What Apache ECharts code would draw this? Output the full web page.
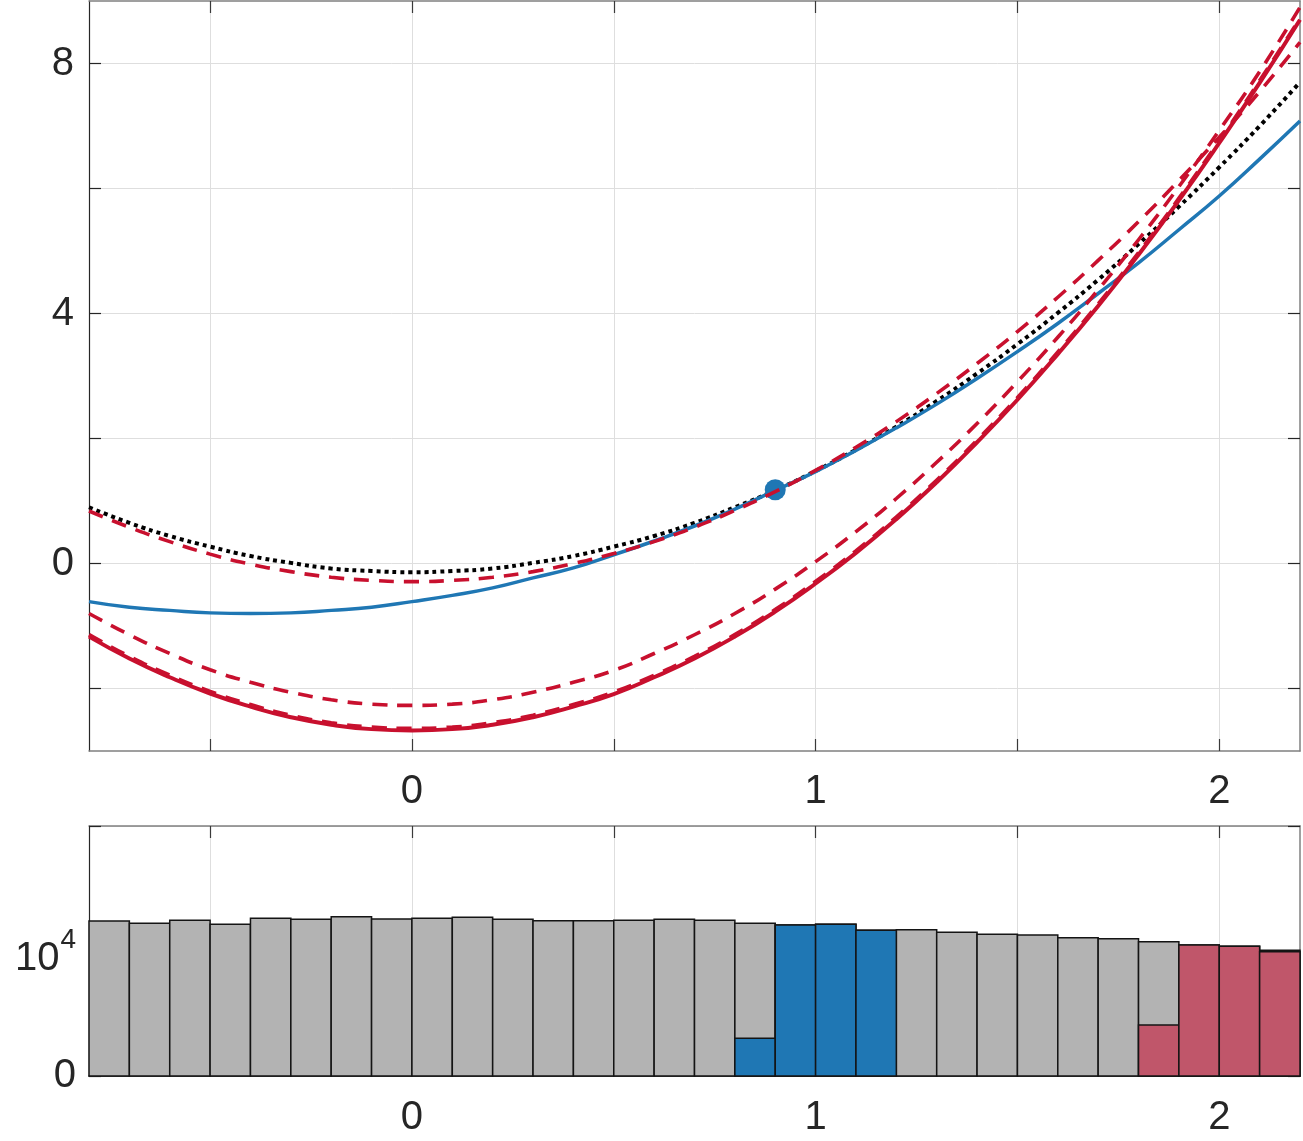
<!DOCTYPE html>
<html>
<head>
<meta charset="utf-8">
<script src="https://cdn.jsdelivr.net/npm/echarts@6/dist/echarts.min.js"></script>
<style>
  html, body { margin: 0; padding: 0; background: #fff; }
  #main { width: 1303px; height: 1141px; }
</style>
</head>
<body>
<div id="main"></div>
<script>
const xs = [-0.8, -0.7, -0.6, -0.5, -0.4, -0.3, -0.2, -0.1, 0, 0.1, 0.2, 0.3, 0.4, 0.5, 0.6, 0.7, 0.8, 0.9, 1.0,
            1.1, 1.2, 1.3, 1.4, 1.5, 1.6, 1.7, 1.8, 1.9, 2.0, 2.1, 2.2];

// black dotted curve
const trueCurve = [0.90, 0.65, 0.44, 0.27, 0.12, 0.01, -0.08, -0.12, -0.14, -0.12, -0.08, 0.01, 0.12, 0.27, 0.44, 0.65,
                   0.90, 1.17, 1.48, 1.82, 2.19, 2.60, 3.04, 3.51, 4.01, 4.54, 5.11, 5.71, 6.34, 7.00, 7.70];
// blue solid curve
const blueCurve = [-0.61, -0.70, -0.75, -0.79, -0.80, -0.79, -0.75, -0.70, -0.61, -0.51, -0.39, -0.23, -0.07, 0.14, 0.36, 0.60,
                   0.87, 1.17, 1.47, 1.81, 2.17, 2.55, 2.96, 3.39, 3.84, 4.32, 4.81, 5.34, 5.88, 6.47, 7.08];
// red dashed curves
const redDashA = [0.84, 0.58, 0.35, 0.15, -0.01, -0.13, -0.22, -0.27, -0.29, -0.27, -0.22, -0.13, 0.00, 0.16, 0.35, 0.58,
                  0.85, 1.15, 1.49, 1.86, 2.27, 2.72, 3.20, 3.71, 4.26, 4.85, 5.47, 6.13, 6.82, 7.55, 8.34];
const redDashB = [-0.80, -1.14, -1.44, -1.70, -1.90, -2.06, -2.18, -2.25, -2.27, -2.25, -2.18, -2.06, -1.90, -1.71, -1.44, -1.14,
                  -0.80, -0.41, 0.03, 0.51, 1.04, 1.62, 2.24, 2.91, 3.62, 4.38, 5.18, 6.03, 6.93, 7.87, 8.90];
const redDashC = [-1.14, -1.49, -1.79, -2.05, -2.26, -2.43, -2.55, -2.62, -2.64, -2.62, -2.55, -2.43, -2.26, -2.06, -1.79, -1.49,
                  -1.14, -0.74, -0.29, 0.20, 0.74, 1.33, 1.97, 2.65, 3.38, 4.15, 4.97, 5.84, 6.76, 7.72, 8.72];
// red solid curve
const redSolid = [-1.17, -1.52, -1.82, -2.08, -2.29, -2.46, -2.58, -2.65, -2.67, -2.65, -2.58, -2.46, -2.29, -2.09, -1.82, -1.52,
                  -1.17, -0.77, -0.32, 0.17, 0.71, 1.30, 1.94, 2.62, 3.35, 4.12, 4.94, 5.81, 6.73, 7.69, 8.70];
// observed point
const obsX = [0.9];
const obsY = [1.18];

// histogram below
const binEdges = [-0.8, -0.7, -0.6, -0.5, -0.4, -0.3, -0.2, -0.1, 0, 0.1, 0.2, 0.3, 0.4, 0.5, 0.6, 0.7, 0.8, 0.9, 1.0,
                  1.1, 1.2, 1.3, 1.4, 1.5, 1.6, 1.7, 1.8, 1.9, 2.0, 2.1, 2.2];
const allCounts = [12400, 12220, 12460, 12140, 12620, 12540, 12740, 12560, 12620, 12700, 12540, 12420, 12420, 12460, 12540,
                   12460, 12220, 12080, 12140, 11660, 11700, 11500, 11340, 11280, 11060, 10980, 10740, 10480, 10380, 10060];
const blueEdges = [0.8, 0.9, 1.0, 1.1, 1.2];
const blueCounts = [3020, 12080, 12140, 11660];
const redEdges = [1.8, 1.9, 2.0, 2.1, 2.2];
const redCounts = [4080, 10480, 10380, 9940];

const xTicks = [-0.5, 0, 0.5, 1, 1.5, 2];
const xLabels = [0, 1, 2];
const yTicksTop = [-2, 0, 2, 4, 6, 8];
const yLabelsTop = [0, 4, 8];
const yTicksBottom = [0, 10000, 20000];
const yLabelsBottom = [0, 10000];

const RED = '#c8102e';
const BLUE = '#1f77b4';
const TXT = '#262626';
const GRIDC = '#dedede';
const FONT = 'Liberation Sans, Arial, sans-serif';

function pairs(x, y) { return x.map((v, i) => [v, y[i]]); }
function bins(edges, counts) { return counts.map((c, i) => [edges[i], edges[i + 1], c]); }

function barRender(color) {
  return function (params, api) {
    const p0 = api.coord([api.value(0), api.value(2)]);
    const p1 = api.coord([api.value(1), 0]);
    return {
      type: 'rect',
      shape: { x: p0[0], y: p0[1], width: p1[0] - p0[0], height: p1[1] - p0[1] },
      style: { fill: color, stroke: '#141414', lineWidth: 1.5 }
    };
  };
}

function xAxisCfg(gridIndex, pos, labels, lineColor, margin) {
  return {
    type: 'value', gridIndex: gridIndex, position: pos, min: -0.8, max: 2.2,
    axisLine: { show: true, onZero: false, lineStyle: { color: lineColor, width: 1.5 } },
    axisTick: { show: true, inside: true, length: 12, customValues: xTicks, lineStyle: { color: '#3a3a3a', width: 1.2 } },
    axisLabel: labels ? { show: true, customValues: xLabels, fontSize: 40, color: TXT, margin: margin,
                          fontFamily: FONT } : { show: false },
    splitLine: { show: pos === 'bottom', lineStyle: { color: GRIDC, width: 1 } }
  };
}

function curve(data, width, dash, z) {
  return {
    type: 'line', xAxisIndex: 0, yAxisIndex: 0, data: data, smooth: true, showSymbol: false,
    lineStyle: { color: RED, width: width, type: dash }, z: z
  };
}

const chart = echarts.init(document.getElementById('main'));
const option = {
  backgroundColor: '#fff',
  animation: false,
  grid: [
    { left: 89, right: 3, top: 1, height: 750 },
    { left: 89, right: 3, top: 826, height: 250 }
  ],
  xAxis: [
    xAxisCfg(0, 'bottom', true, '#808080', 21),
    xAxisCfg(0, 'top', false, '#808080'),
    xAxisCfg(1, 'bottom', true, '#141414', 22),
    xAxisCfg(1, 'top', false, '#808080')
  ],
  yAxis: [
    {
      type: 'value', gridIndex: 0, position: 'left', min: -3, max: 9,
      axisLine: { show: true, onZero: false, lineStyle: { color: TXT, width: 1.2 } },
      axisTick: { show: true, inside: true, length: 12, customValues: yTicksTop, lineStyle: { color: TXT, width: 1.2 } },
      axisLabel: { customValues: yLabelsTop, fontSize: 40, color: TXT, margin: 15, fontFamily: FONT },
      splitLine: { show: true, lineStyle: { color: GRIDC, width: 1 } }
    },
    {
      type: 'value', gridIndex: 0, position: 'right', min: -3, max: 9,
      axisLine: { show: true, onZero: false, lineStyle: { color: '#808080', width: 1.5 } },
      axisTick: { show: true, inside: true, length: 12, customValues: yTicksTop, lineStyle: { color: TXT, width: 1.2 } },
      axisLabel: { show: false },
      splitLine: { show: false }
    },
    {
      type: 'value', gridIndex: 1, position: 'left', min: 0, max: 20000,
      axisLine: { show: true, onZero: false, lineStyle: { color: TXT, width: 1.2 } },
      axisTick: { show: true, inside: true, length: 12, customValues: yTicksBottom, lineStyle: { color: TXT, width: 1.2 } },
      axisLabel: {
        customValues: yLabelsBottom, margin: 13, color: TXT, fontFamily: FONT,
        formatter: v => (v === 10000 ? '{b|10}{s|4}' : '{z|0}'),
        rich: {
          z: { fontSize: 40, color: TXT, fontFamily: FONT },
          b: { fontSize: 40, color: TXT, fontFamily: FONT, padding: [16, 0, 0, 0] },
          s: { fontSize: 28, color: TXT, fontFamily: FONT, padding: [0, 0, 21, 1] }
        }
      },
      splitLine: { show: true, lineStyle: { color: GRIDC, width: 1 } }
    },
    {
      type: 'value', gridIndex: 1, position: 'right', min: 0, max: 20000,
      axisLine: { show: true, onZero: false, lineStyle: { color: '#808080', width: 1.5 } },
      axisTick: { show: true, inside: true, length: 12, customValues: yTicksBottom, lineStyle: { color: TXT, width: 1.2 } },
      axisLabel: { show: false },
      splitLine: { show: false }
    }
  ],
  series: [
    {
      type: 'line', xAxisIndex: 0, yAxisIndex: 0, data: pairs(xs, trueCurve), smooth: true, showSymbol: false,
      lineStyle: { color: '#000', width: 4, type: [4, 4] }, z: 2
    },
    {
      type: 'line', xAxisIndex: 0, yAxisIndex: 0, data: pairs(xs, blueCurve), smooth: true, showSymbol: false,
      lineStyle: { color: BLUE, width: 3.5 }, z: 3
    },
    {
      type: 'scatter', xAxisIndex: 0, yAxisIndex: 0, data: pairs(obsX, obsY), symbolSize: 21,
      itemStyle: { color: BLUE, opacity: 1 }, z: 4
    },
    curve(pairs(xs, redSolid), 4, 'solid', 5),
    curve(pairs(xs, redDashA), 3.6, [15, 10], 6),
    curve(pairs(xs, redDashB), 3.6, [15, 10], 6),
    curve(pairs(xs, redDashC), 4, [15, 10], 6),
    {
      type: 'custom', xAxisIndex: 2, yAxisIndex: 2, renderItem: barRender('#b3b3b3'),
      encode: { x: [0, 1], y: 2 }, data: bins(binEdges, allCounts), z: 2
    },
    {
      type: 'custom', xAxisIndex: 2, yAxisIndex: 2, renderItem: barRender(BLUE),
      encode: { x: [0, 1], y: 2 }, data: bins(blueEdges, blueCounts), z: 3
    },
    {
      type: 'custom', xAxisIndex: 2, yAxisIndex: 2, renderItem: barRender('#c0566a'),
      encode: { x: [0, 1], y: 2 }, data: bins(redEdges, redCounts), z: 3
    }
  ]
};
chart.setOption(option);
</script>
</body>
</html>
